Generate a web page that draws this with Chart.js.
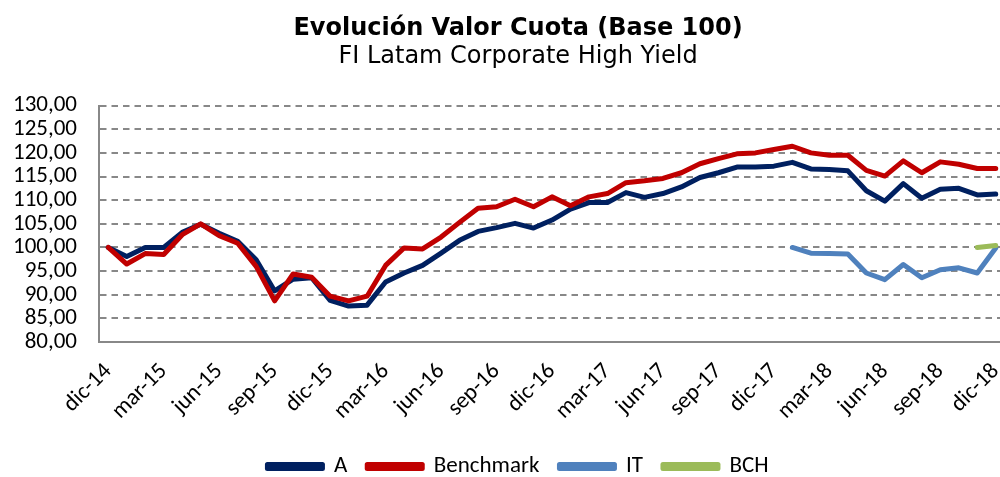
<!DOCTYPE html>
<html>
<head>
<meta charset="utf-8">
<script src="https://cdn.jsdelivr.net/npm/chart.js@4/dist/chart.umd.min.js"></script>
<style>
  html, body { margin: 0; padding: 0; background: #fff; overflow: hidden; }
  #wrap { width: 1036px; height: 477px; }
</style>
</head>
<body>
<div id="wrap"><canvas id="mycanvas" width="1036" height="477"></canvas></div>
<script>
var months = ['dic-14','ene-15','feb-15','mar-15','abr-15','may-15','jun-15','jul-15','ago-15','sep-15','oct-15','nov-15',
  'dic-15','ene-16','feb-16','mar-16','abr-16','may-16','jun-16','jul-16','ago-16','sep-16','oct-16','nov-16',
  'dic-16','ene-17','feb-17','mar-17','abr-17','may-17','jun-17','jul-17','ago-17','sep-17','oct-17','nov-17',
  'dic-17','ene-18','feb-18','mar-18','abr-18','may-18','jun-18','jul-18','ago-18','sep-18','oct-18','nov-18','dic-18'];

var serieA = [100.0, 98.1, 100.0, 100.0, 103.2, 104.9, 103.0, 101.3, 97.4, 90.8, 93.3, 93.6,
  88.8, 87.6, 87.8, 92.7, 94.6, 96.2, 98.8, 101.5, 103.4, 104.2, 105.1, 104.1,
  105.8, 108.1, 109.5, 109.5, 111.6, 110.6, 111.4, 112.8, 114.8, 115.8, 117.0, 117.0,
  117.2, 118.0, 116.6, 116.5, 116.2, 112.0, 109.8, 113.5, 110.4, 112.3, 112.5, 111.1, 111.3];

var benchmark = [100.0, 96.5, 98.7, 98.5, 102.7, 105.0, 102.5, 100.9, 96.0, 88.7, 94.4, 93.7,
  89.7, 88.7, 89.7, 96.2, 99.9, 99.7, 102.2, 105.3, 108.3, 108.6, 110.2, 108.6,
  110.7, 108.8, 110.7, 111.4, 113.7, 114.1, 114.6, 115.8, 117.7, 118.8, 119.8, 120.0,
  120.7, 121.4, 120.0, 119.5, 119.5, 116.3, 115.1, 118.3, 115.8, 118.1, 117.6, 116.7, 116.7];

var serieIT = [null, null, null, null, null, null, null, null, null, null, null, null,
  null, null, null, null, null, null, null, null, null, null, null, null,
  null, null, null, null, null, null, null, null, null, null, null, null,
  null, 100.0, 98.8, 98.7, 98.6, 94.6, 93.2, 96.4, 93.6, 95.3, 95.7, 94.6, 99.9];

var serieBCH = [null, null, null, null, null, null, null, null, null, null, null, null,
  null, null, null, null, null, null, null, null, null, null, null, null,
  null, null, null, null, null, null, null, null, null, null, null, null,
  null, null, null, null, null, null, null, null, null, null, null, 100.0, 100.4];

var yTicks = [80, 85, 90, 95, 100, 105, 110, 115, 120, 125, 130];

function linea(label, data, color, order) {
  return {
    label: label,
    data: data,
    order: order,
    borderColor: color,
    backgroundColor: color,
    borderWidth: 5,
    pointRadius: 0,
    pointHoverRadius: 0,
    tension: 0,
    borderJoinStyle: 'round',
    borderCapStyle: 'round',
    spanGaps: false
  };
}

var chartdata = {
  labels: months,
  datasets: [
    linea('A', serieA, '#002060', 4),
    linea('Benchmark', benchmark, '#C00000', 3),
    linea('IT', serieIT, '#4F81BD', 2),
    linea('BCH', serieBCH, '#9BBB59', 1)
  ]
};

var tickFont = { family: 'Carlito, Lato, sans-serif', size: 23 };

var opt = {
  responsive: false,
  animation: false,
  layout: { padding: { left: 0, right: 0, top: 0, bottom: -11 } },
  plugins: {
    title: {
      display: true,
      text: 'Evolución Valor Cuota (Base 100)',
      color: '#000',
      font: { family: 'DejaVu Sans', size: 24, weight: 'bold', lineHeight: 1.2 },
      padding: { top: 14, bottom: 0 }
    },
    subtitle: {
      display: true,
      text: 'FI Latam Corporate High Yield',
      color: '#000',
      font: { family: 'DejaVu Sans', size: 24, lineHeight: 1.2 },
      padding: { top: 0, bottom: 34 }
    },
    legend: {
      position: 'bottom',
      labels: {
        color: '#000',
        font: tickFont,
        boxWidth: 55,
        boxHeight: 4,
        padding: 20,
        sort: function(a, b) { return a.datasetIndex - b.datasetIndex; }
      }
    },
    tooltip: { enabled: false }
  },
  scales: {
    x: {
      offset: true,
      afterFit: function(scale) { scale.height = scale.height - 6; },
      grid: { display: false, drawTicks: false },
      border: { display: true, color: '#888888', width: 2 },
      ticks: {
        color: '#000',
        font: tickFont,
        autoSkip: false,
        minRotation: 45,
        maxRotation: 45,
        padding: 16,
        callback: function(v, i) { return i % 3 === 0 ? months[i] : null; }
      }
    },
    y: {
      min: 80,
      max: 130,
      afterFit: function(scale) { scale.width = 99; },
      afterBuildTicks: function(scale) { scale.ticks = yTicks.map(function(v) { return { value: v }; }); },
      grid: { color: '#888888', lineWidth: 2, drawTicks: false, tickLength: 0 },
      border: { display: true, color: '#888888', width: 2, dash: [6.5, 5] },
      ticks: {
        color: '#000',
        font: tickFont,
        padding: 22,
        autoSkip: false,
        stepSize: 5,
        callback: function(v) { return v.toFixed(2).replace('.', ','); }
      }
    },
    // empty right-hand axis: only reserves space so the plot ends at x=1005
    derecha: {
      position: 'right',
      afterFit: function(scale) { scale.width = 31; },
      grid: { display: false, drawTicks: false },
      border: { display: false },
      ticks: { display: false }
    }
  }
};

var ctx = document.getElementById('mycanvas');
var LineGraph = new Chart(ctx, { type: 'line', data: chartdata, options: opt });
</script>
</body>
</html>
